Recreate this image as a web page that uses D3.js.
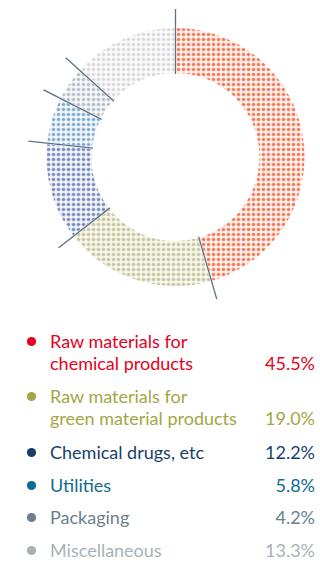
<!DOCTYPE html>
<html><head><meta charset="utf-8">
<script src="https://cdn.jsdelivr.net/npm/d3@7"></script>
<style>html,body{margin:0;padding:0;background:#fff;}svg{display:block;}</style>
</head><body>
<svg id="chart" width="320" height="562"></svg>
<script>
const categories = [
  ["Raw materials for", "chemical products"],
  ["Raw materials for", "green material products"],
  ["Chemical drugs, etc"],
  ["Utilities"],
  ["Packaging"],
  ["Miscellaneous"]
];
const values = [45.5, 19.0, 12.2, 5.8, 4.2, 13.3];
const valueLabels = ["45.5%", "19.0%", "12.2%", "5.8%", "4.2%", "13.3%"];
const legendColors = ["#e60021", "#a3a645", "#173f6c", "#116b90", "#6b7f8f", "#a7b1b9"];
const dotColors = ["#ef7050", "#c2c2a2", "#6f83b6", "#78a2cd", "#b0b8c4", "#d6d6d6"];
const haloColors = ["#f8b8a4", "#dedcc4", "#b7c1dc", "#bcd2e8", "#d8dce2", "#ebebeb"];
const bgColors = ["#fef3ee", "#f9f8ea", "#f5f6fb", "#f4f8fc", "#f8f9fa", "#fbfbfb"];

const svg = d3.select("#chart");
const cx = 175.5, cy = 157, rOuter = 129, rInner = 84;
const defs = svg.append("defs");
values.forEach((v, i) => {
  const p = defs.append("pattern").attr("id", "pat" + i)
    .attr("patternUnits", "userSpaceOnUse").attr("width", 5).attr("height", 5)
    .attr("x", 0.5).attr("y", 0);
  p.append("rect").attr("width", 5).attr("height", 5).attr("fill", bgColors[i]);
  p.append("circle").attr("cx", 2.5).attr("cy", 2.5).attr("r", 2.1).attr("fill", haloColors[i]);
  p.append("circle").attr("cx", 2.5).attr("cy", 2.5).attr("r", 1.3).attr("fill", dotColors[i]);
});

const pie = d3.pie().sort(null).value(d => d);
const arcs = pie(values);
const arc = d3.arc().innerRadius(rInner).outerRadius(rOuter).padAngle(0.012);
const g = svg.append("g").attr("transform", `translate(${cx},${cy})`);
g.selectAll("path.slice").data(arcs).join("path").attr("class", "slice")
  .attr("d", arc).attr("fill", (d, i) => `url(#pat${i})`);

// separator lines at slice boundaries
g.selectAll("line.sep").data(arcs).join("line").attr("class", "sep")
  .attr("x1", d => Math.sin(d.startAngle) * (rInner - 1))
  .attr("y1", d => -Math.cos(d.startAngle) * (rInner - 1))
  .attr("x2", d => Math.sin(d.startAngle) * 148)
  .attr("y2", d => -Math.cos(d.startAngle) * 148)
  .attr("stroke", "#5c7283").attr("stroke-width", 1.3);

// legend
const baselines = [[348, 370], [403, 425], [459], [492], [524], [557]];
const font = "Lato, 'Open Sans', sans-serif";
const leg = svg.append("g");
categories.forEach((lines, i) => {
  const c = legendColors[i];
  leg.append("circle").attr("cx", 31.5).attr("cy", baselines[i][0] - 6.5).attr("r", 4.6).attr("fill", c);
  lines.forEach((t, j) => {
    leg.append("text").attr("x", 50).attr("y", baselines[i][j]).text(t)
      .attr("fill", c).attr("font-family", font).attr("font-size", 18);
  });
  leg.append("text").attr("x", 315).attr("y", baselines[i][lines.length - 1])
    .attr("text-anchor", "end").text(valueLabels[i])
    .attr("fill", c).attr("font-family", font).attr("font-size", 18);
});
</script>
</body></html>
